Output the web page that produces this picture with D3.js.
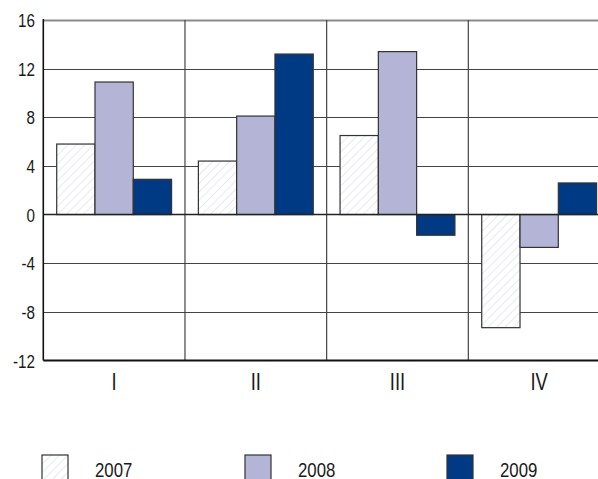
<!DOCTYPE html>
<html>
<head>
<meta charset="utf-8">
<script src="https://cdn.jsdelivr.net/npm/d3@7/dist/d3.min.js"></script>
<style>
  body { margin: 0; background: #fff; }
  svg { display: block; font-family: "Liberation Sans", Arial, sans-serif; }
</style>
</head>
<body>
<svg id="chart" width="598" height="479"></svg>
<script>
// quarters and years
const quarters = ['I', 'II', 'III', 'IV'];
const years = ['2007', '2008', '2009'];

// values per year, one per quarter
const values2007 = [5.8, 4.4, 6.5, -9.3];
const values2008 = [10.9, 8.1, 13.4, -2.7];
const values2009 = [2.9, 13.2, -1.7, 2.6];

const yTicks = [-12, -8, -4, 0, 4, 8, 12, 16];

const series = [values2007, values2008, values2009];
const colors = ['url(#hatch)', '#b4b4d6', '#003984'];

const svg = d3.select('#chart');

// plot area (goes past the right edge like the source)
const plotLeft = 43.3;
const plotRight = 610;
const plotTop = 20;
const plotBottom = 360.5;

// narrow font look: squeeze text horizontally
const squeeze = 0.8;
const narrowText = (sel, px, py) => sel
  .attr('transform', (d, i) => `translate(${px(d, i)},${py(d, i)}) scale(${squeeze},1)`);

const defs = svg.append('defs');
const pat = defs.append('pattern')
  .attr('id', 'hatch')
  .attr('patternUnits', 'userSpaceOnUse')
  .attr('width', 6)
  .attr('height', 6)
  .attr('patternTransform', 'rotate(45)');
pat.append('rect').attr('width', 6).attr('height', 6).attr('fill', '#fff');
pat.append('line')
  .attr('x1', 0).attr('y1', 0).attr('x2', 0).attr('y2', 6)
  .attr('stroke', '#ccd4e6')
  .attr('stroke-width', 1);

// title, mostly above the visible area
svg.append('text')
  .attr('x', 308)
  .attr('y', -5)
  .attr('text-anchor', 'middle')
  .attr('fill', '#1f4e9c')
  .attr('font-weight', 'bold')
  .attr('font-size', 20)
  .text('(в % к пред. году)');

const x = d3.scaleBand().domain(quarters).range([plotLeft, plotRight]).padding(0);
const xi = d3.scaleBand().domain(years).range([0, x.bandwidth()]).paddingInner(0).paddingOuter(0.35);
const y = d3.scaleLinear().domain([-12, 16]).range([plotBottom, plotTop]);

// horizontal grid
svg.append('g')
  .selectAll('line')
  .data(yTicks.filter((d) => d !== 0 && d !== -12))
  .enter()
  .append('line')
  .attr('x1', plotLeft)
  .attr('x2', plotRight)
  .attr('y1', (d) => Math.round(y(d)) + 0.5)
  .attr('y2', (d) => Math.round(y(d)) + 0.5)
  .attr('stroke', (d) => (d === 16 ? '#8a8a8a' : '#444'))
  .attr('stroke-width', (d) => (d === 16 ? 2 : 1.2));

// vertical grid at band edges
svg.append('g')
  .selectAll('line')
  .data(quarters.slice(1))
  .enter()
  .append('line')
  .attr('x1', (d) => x(d))
  .attr('x2', (d) => x(d))
  .attr('y1', plotTop)
  .attr('y2', plotBottom)
  .attr('stroke', '#444')
  .attr('stroke-width', 1.2);

// bars
series.forEach((vals, si) => {
  svg.append('g')
    .selectAll('rect')
    .data(vals)
    .enter()
    .append('rect')
    .attr('x', (d, i) => x(quarters[i]) + xi(years[si]))
    .attr('width', xi.bandwidth())
    .attr('y', (d) => y(Math.max(0, d)))
    .attr('height', (d) => Math.abs(y(d) - y(0)))
    .attr('fill', colors[si])
    .attr('stroke', '#333')
    .attr('stroke-width', 1.2);
});

// zero line, axis line and bottom line
svg.append('line')
  .attr('x1', plotLeft).attr('x2', plotRight)
  .attr('y1', y(0)).attr('y2', y(0))
  .attr('stroke', '#222').attr('stroke-width', 1.6);
svg.append('line')
  .attr('x1', plotLeft).attr('x2', plotRight)
  .attr('y1', plotBottom).attr('y2', plotBottom)
  .attr('stroke', '#111').attr('stroke-width', 1.8);
svg.append('line')
  .attr('x1', plotLeft).attr('x2', plotLeft)
  .attr('y1', plotTop - 1).attr('y2', plotBottom)
  .attr('stroke', '#111').attr('stroke-width', 1.6);

// y tick labels
svg.append('g')
  .selectAll('text')
  .data(yTicks)
  .enter()
  .append('text')
  .call(narrowText, () => 35, (d) => y(d) + 7)
  .attr('text-anchor', 'end')
  .attr('font-size', 19)
  .attr('fill', '#1a1a1a')
  .text((d) => d);

// x labels
svg.append('g')
  .selectAll('text')
  .data(quarters)
  .enter()
  .append('text')
  .call(narrowText, (d) => x(d) + x.bandwidth() / 2, () => 390)
  .attr('text-anchor', 'middle')
  .attr('font-size', 23)
  .attr('fill', '#1a1a1a')
  .text((d) => d);

// legend
const legendX = [42, 245, 447];
const lg = svg.append('g')
  .selectAll('g')
  .data(years)
  .enter()
  .append('g')
  .attr('transform', (d, i) => `translate(${legendX[i]}, 455)`);
lg.append('rect')
  .attr('width', 26)
  .attr('height', 28)
  .attr('fill', (d, i) => colors[i])
  .attr('stroke', '#333')
  .attr('stroke-width', 1.2);
lg.append('text')
  .call(narrowText, () => 53, () => 21.5)
  .attr('font-size', 21)
  .attr('fill', '#1a1a1a')
  .text((d) => d);
</script>
</body>
</html>
